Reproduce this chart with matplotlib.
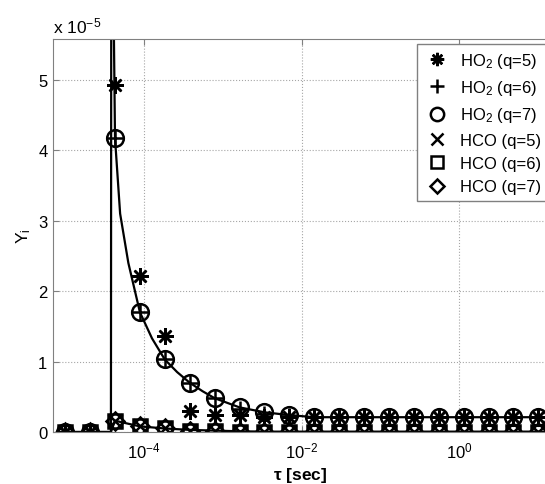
import numpy as np
import matplotlib.pyplot as plt

plt.rcParams['font.family'] = ['Liberation Sans', 'DejaVu Sans']
plt.rcParams['mathtext.fontset'] = 'custom'
plt.rcParams['mathtext.rm'] = 'Liberation Sans'
plt.rcParams['mathtext.it'] = 'Liberation Sans:italic'
plt.rcParams['mathtext.bf'] = 'Liberation Sans:bold'
plt.rcParams['mathtext.default'] = 'regular'

# residence time grid of the markers [sec]
tau = np.logspace(-5, 1, 20)

# mass fractions, in units of 1e-5
ho2_q5 = [0, 0, 4.92, 2.21, 1.36, 0.30, 0.24, 0.24, 0.22, 0.21,
          0.21, 0.21, 0.21, 0.21, 0.21, 0.21, 0.21, 0.21, 0.21, 0.21]
ho2_q6 = [0, 0, 4.17, 1.70, 1.03, 0.70, 0.48, 0.32, 0.26, 0.23,
          0.22, 0.21, 0.21, 0.21, 0.21, 0.21, 0.21, 0.21, 0.21, 0.21]
ho2_q7 = [0, 0, 4.17, 1.70, 1.03, 0.70, 0.48, 0.36, 0.29, 0.24,
          0.22, 0.21, 0.21, 0.21, 0.21, 0.21, 0.21, 0.21, 0.21, 0.21]
hco_q5 = [0, 0, 0.16, 0.08, 0.05, 0.02, 0.01, 0.0, 0.0, 0.0,
          0.0, 0.0, 0.0, 0.0, 0.0, 0.0, 0.0, 0.0, 0.0, 0.0]
hco_q6 = [0, 0, 0.16, 0.08, 0.05, 0.02, 0.01, 0.0, 0.0, 0.0,
          0.0, 0.0, 0.0, 0.0, 0.0, 0.0, 0.0, 0.0, 0.0, 0.0]
hco_q7 = [0, 0, 0.16, 0.08, 0.05, 0.02, 0.01, 0.0, 0.0, 0.0,
          0.0, 0.0, 0.0, 0.0, 0.0, 0.0, 0.0, 0.0, 0.0, 0.0]

# reference (detailed) solution
tau_ho2_ref = [1e-5, 2.07e-5, 3.80e-5, 3.85e-5, 4.28e-5, 4.97e-5, 6.32e-5, 8.86e-5,
               1.26e-4, 1.83e-4, 2.63e-4, 3.79e-4, 5.5e-4, 7.85e-4, 1.62e-3,
               3.36e-3, 6.95e-3, 1.44e-2, 20.0]
ho2_ref = [0, 0, 0, 9.0, 4.17, 3.10, 2.40, 1.70, 1.33, 1.03, 0.85, 0.70, 0.58,
           0.48, 0.35, 0.28, 0.24, 0.21, 0.21]
tau_hco_ref = [1e-5, 2.07e-5, 3.80e-5, 4.28e-5, 8.86e-5, 1.83e-4, 3.79e-4,
               7.85e-4, 1.62e-3, 3.36e-3, 20.0]
hco_ref = [0, 0, 0, 0.16, 0.08, 0.05, 0.03, 0.02, 0.01, 0.005, 0.005]

fig = plt.figure(figsize=(5.45, 4.85), dpi=100)
ax = fig.add_axes([53/545, 1-433/485, 499/545, 393/485])

ax.plot(tau_ho2_ref, ho2_ref, 'k-', lw=1.6)
ax.plot(tau_hco_ref, hco_ref, 'k-', lw=1.6)

mk = dict(color='k', mfc='none', mew=1.8, ls='none', ms=12)
ax.plot(tau, ho2_q5, marker=(8, 2, 0), label='HO$_2$ (q=5)', **mk)
ax.plot(tau, ho2_q6, marker='+', label='HO$_2$ (q=6)', **mk)
ax.plot(tau, ho2_q7, marker='o', label='HO$_2$ (q=7)', **mk)
ax.plot(tau, hco_q5, marker='x', label='HCO (q=5)', **dict(mk, ms=10))
ax.plot(tau, hco_q6, marker='s', label='HCO (q=6)', **dict(mk, ms=10))
ax.plot(tau, hco_q7, marker='D', label='HCO (q=7)', **dict(mk, ms=9))

ax.set_xscale('log')
ax.set_xlim(7e-6, 14.9)
ax.set_ylim(0, 5.58)
ax.set_xticks([1e-4, 1e-2, 1e0])
ax.set_xticklabels(['10$^{-4}$', '10$^{-2}$', '10$^{0}$'])
ax.xaxis.set_minor_locator(plt.NullLocator())
ax.set_yticks([0, 1, 2, 3, 4, 5])
ax.set_yticklabels(['0', '1', '2', '3', '4', '5'])
ax.tick_params(direction='in', top=True, right=True, labelsize=12,
               color='0.5', length=4, pad=4)
ax.tick_params(axis='x', pad=6)
for s in ax.spines.values():
    s.set_color('0.5')
ax.grid(True, ls=':', color='0.65', lw=0.8)

ax.text(0.0, 1.008, 'x 10$^{-5}$', transform=ax.transAxes, fontsize=12.5,
        ha='left', va='bottom')
ax.set_xlabel(r'$\mathbf{\tau}$ [sec]', fontsize=12.5, fontweight='bold')
ax.set_ylabel('Y$_i$', fontsize=12.5)
ax.xaxis.set_label_coords(0.495, -0.085)
ax.yaxis.set_label_coords(-0.04, 0.5)

leg = ax.legend(loc='upper left', bbox_to_anchor=(417/545, 1-45/485),
                bbox_transform=fig.transFigure, fontsize=12, fancybox=False,
                edgecolor='0.5', framealpha=1, markerscale=0.8, handlelength=1.6,
                handletextpad=0.6, labelspacing=0.5, borderpad=0.4,
                borderaxespad=0)
leg.get_frame().set_linewidth(1.0)

fig.savefig('out.png', dpi=100)
